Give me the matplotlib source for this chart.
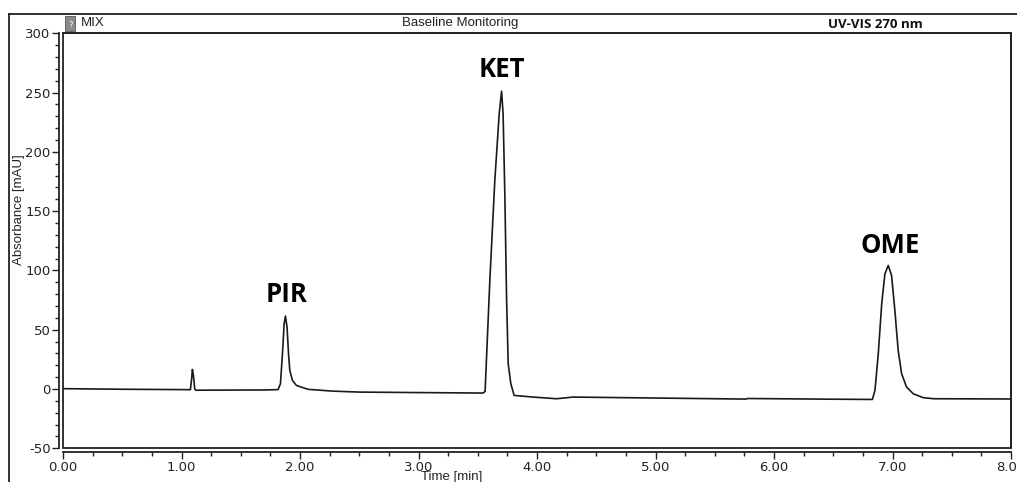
import matplotlib
matplotlib.use("Agg")
import matplotlib.pyplot as plt
from matplotlib.lines import Line2D
from matplotlib.patches import Rectangle
from matplotlib.ticker import MultipleLocator, FormatStrFormatter

plt.rcParams["axes.unicode_minus"] = False

# ---- data ----
time_min = [0.00, 0.50, 1.00, 1.075, 1.085, 1.092, 1.100, 1.112, 1.120, 1.40, 1.70,
            1.815, 1.835, 1.852, 1.866, 1.877, 1.891, 1.903, 1.914, 1.936, 1.970,
            2.026, 2.070, 2.280, 2.505, 3.000, 3.545, 3.562, 3.602, 3.644, 3.681,
            3.701, 3.714, 3.729, 3.743, 3.757, 3.779, 3.807, 3.968, 4.165, 4.305,
            5.000, 5.765, 5.775, 6.500, 6.830, 6.852, 6.880, 6.909, 6.936, 6.964,
            6.992, 7.020, 7.048, 7.077, 7.119, 7.175, 7.259, 7.350, 8.000]
absorbance = [0.3, -0.2, -0.5, -0.6, 8.0, 16.5, 12.0, 0.0, -1.0, -0.9, -0.8,
              -0.5, 4.5, 29.8, 55.0, 61.5, 52.0, 29.8, 15.7, 7.3, 3.0,
              1.1, -0.3, -1.8, -2.6, -3.0, -3.4, -2.0, 91.6, 175.9, 232.0,
              251.2, 232.0, 161.8, 77.5, 21.3, 4.5, -5.4, -6.8, -8.2, -6.8,
              -7.6, -8.5, -8.0, -8.6, -8.8, -1.2, 29.8, 71.9, 97.2, 104.2,
              95.8, 66.3, 32.5, 12.9, 1.6, -4.0, -7.3, -8.2, -8.4]

peak_names = ["PIR", "KET", "OME"]
peak_label_x = [1.89, 3.704, 6.98]
peak_label_y = [80, 269.5, 120.7]

header_left = "MIX"
header_mid = "Baseline Monitoring"
header_right = "UV-VIS 270 nm"
x_label = "Time [min]"
y_label = "Absorbance [mAU]"

W, H = 1017, 482
fig = plt.figure(figsize=(W / 100, H / 100), dpi=100)
fig.patch.set_facecolor("white")

ax_l, ax_r, ax_b, ax_t = 63, 1011, 448.3, 33.3
ax = fig.add_axes([ax_l / W, 1 - ax_b / H, (ax_r - ax_l) / W, (ax_b - ax_t) / H])

ax.plot(time_min, absorbance, color="#1a1a1a", lw=1.2, solid_joinstyle="round")

ax.set_xlim(0, 8)
ax.set_ylim(-50, 300)
ax.xaxis.set_major_locator(MultipleLocator(1))
ax.xaxis.set_minor_locator(MultipleLocator(0.25))
ax.xaxis.set_major_formatter(FormatStrFormatter("%.2f"))
ax.yaxis.set_major_locator(MultipleLocator(50))
ax.yaxis.set_minor_locator(MultipleLocator(10))

tick_font = "Liberation Sans"
for lab in ax.get_xticklabels() + ax.get_yticklabels():
    lab.set_family(tick_font)
ax.tick_params(axis="both", which="major", direction="out", length=5, width=1,
               labelsize=9.5, color="#222222", labelcolor="#222222")
ax.tick_params(axis="both", which="minor", direction="out", length=3, width=1,
               color="#222222")
ax.tick_params(axis="x", pad=1)
ax.tick_params(axis="y", pad=1)

for s in ["top", "right"]:
    ax.spines[s].set_linewidth(1.3)
    ax.spines[s].set_color("#222222")
for s in ["left", "bottom"]:
    ax.spines[s].set_position(("outward", 3))
    ax.spines[s].set_linewidth(1.3)
    ax.spines[s].set_color("#222222")
# inner frame lines (double-line look)
ax.add_patch(Rectangle((0, 0), 1, 1, transform=ax.transAxes, fill=False,
                       lw=1.3, ec="#222222", clip_on=False))

for name, px, py in zip(peak_names, peak_label_x, peak_label_y):
    ax.text(px, py, name, ha="center", va="center", fontsize=18.5,
            fontweight="bold", family="Open Sans", color="black")

ax.set_xlabel(x_label, family=tick_font, fontsize=9.5, color="#222222")
ax.xaxis.set_label_coords((452 - ax_l) / (ax_r - ax_l), -(477 - ax_b) / (ax_b - ax_t), transform=ax.transAxes)
ax.xaxis.label.set_va("center")
ax.set_ylabel(y_label, family=tick_font, fontsize=9.5, color="#222222")
ax.yaxis.set_label_coords(-(ax_l - 19) / (ax_r - ax_l), (ax_b - 210) / (ax_b - ax_t), transform=ax.transAxes)
ax.yaxis.label.set_va("center")

# header frame
fig.add_artist(Line2D([9 / W, 1], [1 - 14 / H, 1 - 14 / H], color="#222222", lw=1.3))
fig.add_artist(Line2D([9 / W, 9 / W], [0, 1 - 14 / H], color="#222222", lw=1.3))
fig.add_artist(Rectangle((65 / W, 1 - 31 / H), 10 / W, 15 / H, fc="#8a8a8a", ec="#555555", lw=0.6))
fig.text(68 / W, 1 - 25 / H, "?", fontsize=6, color="white", va="center")

fig.text(81 / W, 1 - 23 / H, header_left, fontsize=9.5, family=tick_font, va="center", color="#222222")
fig.text(460 / W, 1 - 23 / H, header_mid, fontsize=9.5, family=tick_font, ha="center", va="center", color="#222222")
fig.text(875 / W, 1 - 24 / H, header_right, fontsize=9.5, family="Open Sans", fontweight="bold",
         ha="center", va="center", color="#111111")

fig.savefig("out.png", dpi=100, facecolor="white")
